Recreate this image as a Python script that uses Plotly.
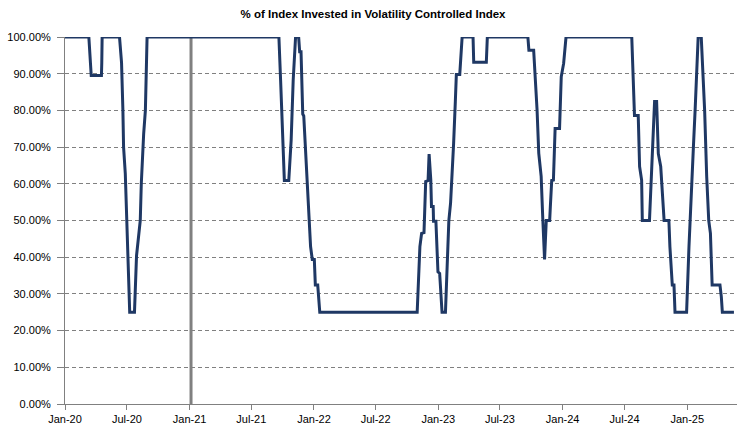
import plotly.graph_objects as go

# ---- data ----
dates = [
    "2020-01-01", "2020-03-11", "2020-03-18", "2020-04-17", "2020-04-18", "2020-04-19",
    "2020-06-09", "2020-06-15", "2020-06-19", "2020-06-21", "2020-06-26", "2020-07-01",
    "2020-07-06", "2020-07-09", "2020-07-23", "2020-07-29", "2020-08-09", "2020-08-12",
    "2020-08-19", "2020-08-24", "2020-08-29",
    "2021-09-20", "2021-09-25", "2021-09-30", "2021-10-06", "2021-10-19", "2021-10-26",
    "2021-11-01", "2021-11-08", "2021-11-17", "2021-11-20", "2021-11-24", "2021-11-29",
    "2021-12-02", "2021-12-10", "2021-12-17", "2021-12-22", "2021-12-27",
    "2022-01-02", "2022-01-05", "2022-01-12", "2022-01-18",
    "2022-10-31", "2022-11-08", "2022-11-13", "2022-11-20", "2022-11-25", "2022-12-02",
    "2022-12-05", "2022-12-10", "2022-12-12", "2022-12-17", "2022-12-18", "2022-12-25",
    "2022-12-28", "2022-12-31",
    "2023-01-05", "2023-01-12", "2023-01-22", "2023-01-29", "2023-02-01", "2023-02-06",
    "2023-02-11", "2023-02-15", "2023-02-20", "2023-02-23", "2023-03-05", "2023-03-12",
    "2023-04-13", "2023-04-15", "2023-05-22", "2023-05-25", "2023-09-21", "2023-09-24",
    "2023-10-08", "2023-10-13", "2023-10-18", "2023-10-23", "2023-10-30", "2023-11-04",
    "2023-11-09", "2023-11-14", "2023-11-24", "2023-11-26", "2023-11-30", "2023-12-05",
    "2023-12-10", "2023-12-23", "2023-12-28",
    "2024-01-04", "2024-01-11", "2024-07-22", "2024-07-25", "2024-07-30", "2024-08-10",
    "2024-08-14", "2024-08-20", "2024-08-22", "2024-09-12", "2024-09-17", "2024-09-22",
    "2024-09-27", "2024-10-03", "2024-10-08", "2024-10-15", "2024-10-25", "2024-11-08",
    "2024-11-11", "2024-11-18", "2024-11-23", "2024-11-26", "2024-12-30",
    "2025-01-06", "2025-01-14", "2025-01-19", "2025-01-24", "2025-01-29", "2025-02-02",
    "2025-02-11", "2025-02-16", "2025-02-21", "2025-02-27", "2025-03-05", "2025-03-10",
    "2025-03-15", "2025-04-07", "2025-04-11", "2025-04-14", "2025-05-18",
]

invested_pct = [
    100, 100, 89.5, 89.5, 93, 100,
    100, 93, 80, 70, 62.8, 47.4,
    33.8, 25, 25, 40.4, 50, 60,
    73.7, 80, 100,
    100, 88.3, 74.7, 60.9, 60.9, 71.9,
    88.3, 100, 100, 96, 96, 79,
    78.5, 62.8, 50, 42.9, 39.4,
    39.4, 32.4, 32.4, 25,
    25, 42.9, 46.5, 46.7, 60.6, 60.9,
    68.1, 61, 53.8, 53.8, 49.8, 49.8,
    42.9, 36,
    35.6, 25, 25, 45.6, 50, 54.7,
    62, 71, 82.4, 89.8, 89.8, 100,
    100, 93.1, 93.1, 100, 100, 96.4,
    96.4, 89.2, 80.1, 68.3, 62, 50,
    39.4, 50, 50, 53.8, 60.9, 61,
    75.1, 75.1, 89.2,
    92.8, 100, 100, 90.1, 78.6, 78.6,
    64.7, 61, 50, 50, 61, 70,
    82.4, 82.4, 68.2, 64.7, 50, 50,
    42.9, 32.4, 32.4, 25, 25,
    42.9, 62, 70, 80, 92.8, 100,
    100, 91, 80, 62, 50, 46.5,
    32.4, 32.4, 29.2, 25, 25,
]

marker_dates = ["2021-01-05", "2021-01-05"]
marker_values = [0, 100]

y_ticks = [0, 10, 20, 30, 40, 50, 60, 70, 80, 90, 100]
x_range = ["2020-01-01", "2025-05-27"]

# ---- figure ----
fig = go.Figure()

fig.add_trace(go.Scatter(
    x=marker_dates, y=marker_values, mode="lines",
    line=dict(color="#808080", width=3),
    hoverinfo="skip", showlegend=False,
))

fig.add_trace(go.Scatter(
    x=dates, y=invested_pct, mode="lines",
    line=dict(color="#1F3864", width=3),
    showlegend=False,
))

fig.update_layout(
    width=746, height=434,
    margin=dict(l=65, r=9, t=37, b=30, autoexpand=False),
    paper_bgcolor="white", plot_bgcolor="white",
    font=dict(family="Liberation Sans, Arial, sans-serif", size=11, color="#000000"),
    title=dict(
        text="<b>% of Index Invested in Volatility Controlled Index</b>",
        x=0.5, xanchor="center", y=1 - 14 / 434, yanchor="middle",
        font=dict(size=11.5, color="#000000"),
    ),
)

fig.update_xaxes(
    type="date", range=x_range,
    tick0="2020-01-01", dtick="M6", tickformat="%b-%y",
    showgrid=False, zeroline=False,
    showline=True, linecolor="#808080", linewidth=1,
    ticks="outside", ticklen=5, tickcolor="#808080",
    tickfont=dict(size=11), automargin=False,
)

fig.update_yaxes(
    range=[0, 100], tickvals=y_ticks,
    ticktext=[f"{v:.2f}%" for v in y_ticks],
    showgrid=True, gridcolor="#808080", gridwidth=1, griddash="4px,3px",
    zeroline=False,
    showline=True, linecolor="#808080", linewidth=1,
    ticks="outside", ticklen=7, tickcolor="#808080",
    ticklabelstandoff=4,
    tickfont=dict(size=11), automargin=False,
)

fig.write_html(
    "out.html",
    config={"displayModeBar": False},
    post_script="document.body.style.margin='0';",
)
